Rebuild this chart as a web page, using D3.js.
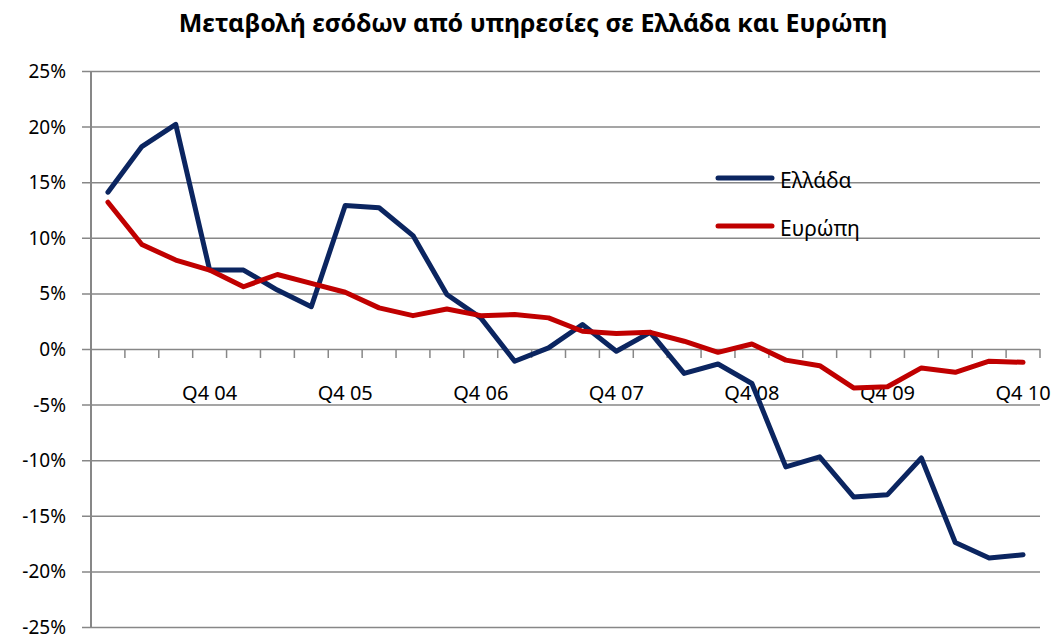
<!DOCTYPE html>
<html>
<head>
<meta charset="utf-8">
<script src="https://cdn.jsdelivr.net/npm/d3@7"></script>
<style>
  body { margin: 0; background: #fff; }
  text { font-family: "Noto Sans", "Open Sans", sans-serif; fill: #000; }
</style>
</head>
<body>
<svg id="chart" width="1056" height="638"></svg>
<script>
// quarters Q1 04 .. Q4 10
var quarters = [];
["04", "05", "06", "07", "08", "09", "10"].forEach(function(y) {
  ["Q1", "Q2", "Q3", "Q4"].forEach(function(q) { quarters.push(q + " " + y); });
});
var greece = [14.1, 18.2, 20.2, 7.1, 7.1, 5.3, 3.8, 12.9, 12.7, 10.2, 4.9, 2.8, -1.1, 0.1,
              2.2, -0.2, 1.5, -2.2, -1.35, -3.1, -10.6, -9.7, -13.3, -13.1, -9.8, -17.4, -18.8, -18.5];
var europe = [13.2, 9.4, 8.0, 7.1, 5.6, 6.7, 5.9, 5.1, 3.7, 3.0, 3.6, 3.0, 3.1, 2.8,
              1.6, 1.4, 1.5, 0.7, -0.3, 0.45, -1.0, -1.5, -3.5, -3.4, -1.7, -2.1, -1.1, -1.2];
var yTicks = [-25, -20, -15, -10, -5, 0, 5, 10, 15, 20, 25];
var seriesNames = ["Ελλάδα", "Ευρώπη"];
var seriesColors = ["#0b2560", "#c00000"];
var title = "Μεταβολή εσόδων από υπηρεσίες σε Ελλάδα και Ευρώπη";

(function() {
  var svg = d3.select("#chart");
  var pLeft = 91, pRight = 1040, pTop = 71, pBottom = 627;
  var gridColor = "#878787";

  var x = d3.scaleBand().domain(quarters).range([pLeft, pRight]);
  var y = d3.scaleLinear().domain([-25, 25]).range([pBottom, pTop]);

  svg.append("text")
    .attr("x", 533).attr("y", 32)
    .attr("text-anchor", "middle")
    .style("font-size", "25px").style("font-weight", "bold")
    .text(title);

  // gridlines + y labels
  var yAxis = d3.axisLeft(y).tickValues(yTicks).tickSize(-(pRight - pLeft)).tickPadding(14)
    .tickFormat(function(d) { return d + "%"; });
  var gy = svg.append("g").attr("transform", "translate(" + pLeft + ",0)").call(yAxis);
  gy.select(".domain").remove();
  gy.selectAll(".tick line").attr("stroke", gridColor).attr("stroke-width", 1.5).attr("x1", -9);
  gy.selectAll(".tick text").style("font-size", "19px").attr("dy", "0.34em").attr("x", -25);

  svg.append("line")
    .attr("x1", pLeft).attr("x2", pLeft).attr("y1", pTop).attr("y2", pBottom)
    .attr("stroke", gridColor).attr("stroke-width", 2);

  // category axis at 0
  var boundaries = quarters.map(function(q) { return x(q); }).concat([pRight]);
  svg.selectAll(".xtick").data(boundaries).enter().append("line")
    .attr("x1", function(d) { return d; }).attr("x2", function(d) { return d; })
    .attr("y1", y(0)).attr("y2", y(0) + 9)
    .attr("stroke", gridColor).attr("stroke-width", 1.5);
  svg.selectAll(".xlab").data(quarters.filter(function(q) { return q.indexOf("Q4") === 0; }))
    .enter().append("text")
    .attr("x", function(d) { return x(d) + x.bandwidth() / 2; })
    .attr("y", y(0) + 51)
    .attr("text-anchor", "middle")
    .style("font-size", "20px")
    .text(function(d) { return d; });

  var line = d3.line()
    .x(function(d, i) { return x(quarters[i]) + x.bandwidth() / 2; })
    .y(function(d) { return y(d); });

  [greece, europe].forEach(function(s, k) {
    svg.append("path").datum(s)
      .attr("fill", "none").attr("stroke", seriesColors[k]).attr("stroke-width", 5)
      .attr("stroke-linejoin", "round").attr("stroke-linecap", "round")
      .attr("d", line);
  });

  // legend
  seriesNames.forEach(function(n, k) {
    var ly = 178 + k * 48;
    svg.append("line").attr("x1", 718).attr("x2", 772).attr("y1", ly).attr("y2", ly)
      .attr("stroke", seriesColors[k]).attr("stroke-width", 5).attr("stroke-linecap", "round");
    svg.append("text").attr("x", 780).attr("y", ly + 10).style("font-size", "21px").text(n);
  });
})();
</script>
</body>
</html>
